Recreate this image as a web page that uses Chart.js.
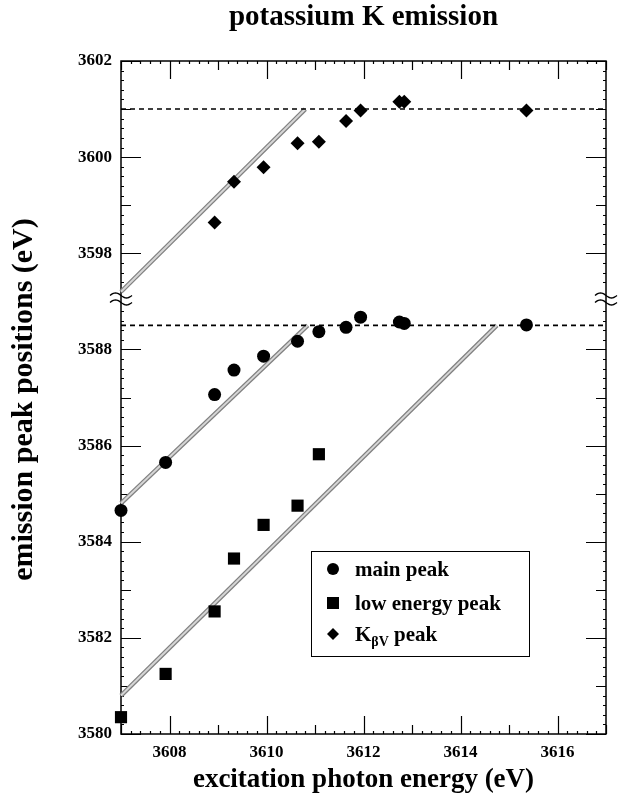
<!DOCTYPE html>
<html>
<head>
<meta charset="utf-8">
<script src="https://cdn.jsdelivr.net/npm/chart.js@4.4.1/dist/chart.umd.min.js"></script>
<style>
  html, body { margin: 0; background: #fff; }
  #wrap { width: 633px; height: 811px; }
</style>
</head>
<body>
<div id="wrap"><canvas id="chart" width="633" height="811"></canvas></div>
<script>
// excitation energies (eV), shared by all three peak series
const photonEnergy = [3607.0, 3607.92, 3608.93, 3609.33, 3609.94, 3610.64, 3611.08, 3611.64, 3611.94, 3612.74, 3612.84, 3615.36];
const mainPeak = [3584.65, 3585.65, 3587.06, 3587.57, 3587.86, 3588.17, 3588.37, 3588.46, 3588.67, 3588.57, 3588.54, 3588.51];
const lowEnergyPeak = [3580.35, 3581.25, 3582.55, 3583.65, 3584.35, 3584.75, 3585.82];
// K beta-V only measured from the 3rd energy on
const kbvEnergy = photonEnergy.slice(2);
const kbvPeak = [3598.64, 3599.49, 3599.79, 3600.29, 3600.32, 3600.75, 3600.97, 3601.15, 3601.15, 3600.97];

// horizontal (dashed) limits
const mainLimit = 3588.5;
const kbvLimit = 3601.0;

// Raman (slope ~1) lines
const kbvLineX = [3607, 3610.8];
const kbvLineY = [3597.2, 3601.0];
const mainLineX = [3607, 3610.85];
const mainLineY = [3584.8, 3588.5];
const lowLineX = [3607, 3614.75];
const lowLineY = [3580.8, 3588.5];

const xTicks = [3608, 3610, 3612, 3614, 3616];
const yTicks = [3580, 3582, 3584, 3586, 3588, 3598, 3600, 3602];

// broken y axis: the range 3589.1 .. 3597.1 is cut out
const breakLow = 3589.1;
const breakHigh = 3597.1;
const breakGap = 8;

function toAxis(v) { return v >= breakHigh ? v - breakGap : v; }
function fromAxis(a) { return a > breakLow ? a + breakGap : a; }
function pts(xs, ys) { return xs.map((x, i) => ({ x: x, y: toAxis(ys[i]) })); }

const SERIF = '"Liberation Serif", "DejaVu Serif", serif';

function drawDecor(chart) {
  const ctx = chart.ctx;
  const a = chart.chartArea;
  const xs = chart.scales.x, ys = chart.scales.y;
  ctx.save();
  ctx.strokeStyle = '#000';
  ctx.lineWidth = 1.5;
  ctx.strokeRect(a.left, a.top, a.right - a.left, a.bottom - a.top);

  ctx.lineWidth = 1.2;
  ctx.beginPath();
  // x ticks, every 0.2 eV
  for (let i = 0; i <= 50; i++) {
    const v = 3607 + i * 0.2;
    const r = Math.round(v * 10) / 10;
    let len = 3;
    if (Math.abs(r - Math.round(r)) < 1e-6) len = Math.round(r) % 2 === 0 ? 18 : 9;
    const px = Math.round(xs.getPixelForValue(v)) + 0.5;
    ctx.moveTo(px, a.bottom); ctx.lineTo(px, a.bottom - len);
    ctx.moveTo(px, a.top); ctx.lineTo(px, a.top + len);
  }
  // y ticks, every 0.2 eV (skip under the break marks)
  for (let i = 0; i <= 70; i++) {
    const av = 3580 + i * 0.2;
    if (av > 3588.9 && av < 3589.3) continue;
    const r = Math.round(fromAxis(av) * 10) / 10;
    let len = 3;
    if (Math.abs(r - Math.round(r)) < 1e-6) len = Math.round(r) % 2 === 0 ? 20 : 10;
    const py = Math.round(ys.getPixelForValue(av)) + 0.5;
    ctx.moveTo(a.left, py); ctx.lineTo(a.left + len, py);
    ctx.moveTo(a.right, py); ctx.lineTo(a.right - len, py);
  }
  ctx.stroke();

  // break marks
  const by = ys.getPixelForValue(breakLow - 0.05);
  ctx.lineWidth = 1.4;
  [a.left, a.right].forEach(cx => {
    [by - 3.5, by + 3.5].forEach(cy => {
      ctx.beginPath();
      for (let t = 0; t <= 20; t++) {
        const x = cx - 11 + t * 1.1;
        const y = cy - 2.5 * Math.sin(t / 20 * 2 * Math.PI);
        if (t === 0) ctx.moveTo(x, y); else ctx.lineTo(x, y);
      }
      ctx.stroke();
    });
  });
  ctx.restore();
}

function drawText(chart) {
  const ctx = chart.ctx;
  const a = chart.chartArea;
  const cx = (a.left + a.right) / 2;
  ctx.save();
  ctx.fillStyle = '#000';
  ctx.textAlign = 'center';
  ctx.textBaseline = 'alphabetic';
  ctx.font = 'bold 29px ' + SERIF;
  ctx.fillText('potassium K emission', cx, 25);
  ctx.font = 'bold 27px ' + SERIF;
  ctx.fillText('excitation photon energy (eV)', cx, 787);
  ctx.save();
  ctx.font = 'bold 30px ' + SERIF;
  ctx.translate(32, (a.top + a.bottom) / 2 + 2);
  ctx.rotate(-Math.PI / 2);
  ctx.fillText('emission peak positions (eV)', 0, 0);
  ctx.restore();

  // legend
  const lx = 311, ly = 551, lw = 218, lh = 105;
  ctx.fillStyle = '#fff';
  ctx.fillRect(lx, ly, lw, lh);
  ctx.strokeStyle = '#000';
  ctx.lineWidth = 1;
  ctx.strokeRect(lx + 0.5, ly + 0.5, lw, lh);
  ctx.fillStyle = '#000';
  const mx = 333;
  ctx.beginPath(); ctx.arc(mx, 569, 6, 0, Math.PI * 2); ctx.fill();
  ctx.fillRect(mx - 6, 597, 12, 12);
  ctx.beginPath();
  ctx.moveTo(mx, 628); ctx.lineTo(mx + 6, 634); ctx.lineTo(mx, 640); ctx.lineTo(mx - 6, 634);
  ctx.closePath(); ctx.fill();
  ctx.textAlign = 'left';
  ctx.font = 'bold 21px ' + SERIF;
  ctx.fillText('main peak', 355, 576);
  ctx.fillText('low energy peak', 355, 610);
  ctx.fillText('K', 355, 641);
  let w = ctx.measureText('K').width;
  ctx.font = 'bold 14px ' + SERIF;
  ctx.fillText('βV', 355 + w, 646);
  w += ctx.measureText('βV').width;
  ctx.font = 'bold 21px ' + SERIF;
  ctx.fillText(' peak', 355 + w, 641);
  ctx.restore();
}

const decorPlugin = {
  id: 'decor',
  beforeDatasetsDraw(chart) { drawDecor(chart); },
  afterDraw(chart) { drawText(chart); }
};

function band(xs, ys, color, width) {
  return {
    data: pts(xs, ys), showLine: true, borderColor: color, borderWidth: width,
    pointRadius: 0, fill: false, clip: false
  };
}

const datasets = [
  { label: 'main peak', data: pts(photonEnergy, mainPeak), pointStyle: 'circle', pointRadius: 6.5,
    backgroundColor: '#000', borderColor: '#000', borderWidth: 0, clip: false },
  { label: 'low energy peak', data: pts(photonEnergy.slice(0, lowEnergyPeak.length), lowEnergyPeak), pointStyle: 'rect', pointRadius: 8.6,
    backgroundColor: '#000', borderColor: '#000', borderWidth: 0, clip: false },
  { label: 'Kbv peak', data: pts(kbvEnergy, kbvPeak), pointStyle: 'rectRot', pointRadius: 7,
    backgroundColor: '#000', borderColor: '#000', borderWidth: 0, clip: false },
  { data: pts([3607, 3617], [kbvLimit, kbvLimit]), showLine: true, borderColor: '#000', borderWidth: 1.6,
    borderDash: [5, 4], pointRadius: 0 },
  { data: pts([3607, 3617], [mainLimit, mainLimit]), showLine: true, borderColor: '#000', borderWidth: 1.6,
    borderDash: [5, 4], pointRadius: 0 },
  band(kbvLineX, kbvLineY, '#d6d6d6', 2),
  band(mainLineX, mainLineY, '#d6d6d6', 2),
  band(lowLineX, lowLineY, '#d6d6d6', 2),
  band(kbvLineX, kbvLineY, '#808080', 4.5),
  band(mainLineX, mainLineY, '#808080', 4.5),
  band(lowLineX, lowLineY, '#808080', 4.5)
];

new Chart(document.getElementById('chart'), {
  type: 'scatter',
  data: { datasets: datasets },
  plugins: [decorPlugin],
  options: {
    responsive: false,
    animation: false,
    devicePixelRatio: 1,
    layout: { padding: { top: 61, right: 27, left: 0, bottom: 0 } },
    plugins: { legend: { display: false }, tooltip: { enabled: false } },
    scales: {
      x: {
        type: 'linear', min: 3607, max: 3617,
        grid: { display: false, drawTicks: false },
        border: { display: false },
        afterFit: s => { s.height = 77; },
        afterBuildTicks: s => { s.ticks = xTicks.map(v => ({ value: v })); },
        ticks: {
          color: '#000', padding: 8, font: { family: SERIF, weight: 'bold', size: 17 },
          callback: v => String(v)
        }
      },
      y: {
        type: 'linear', min: 3580, max: 3594,
        grid: { display: false, drawTicks: false },
        border: { display: false },
        afterFit: s => { s.width = 121; },
        afterBuildTicks: s => { s.ticks = yTicks.map(v => ({ value: toAxis(v) })); },
        ticks: {
          color: '#000', padding: 9, font: { family: SERIF, weight: 'bold', size: 17 },
          callback: v => String(Math.round(fromAxis(v)))
        }
      }
    }
  }
});
</script>
</body>
</html>
